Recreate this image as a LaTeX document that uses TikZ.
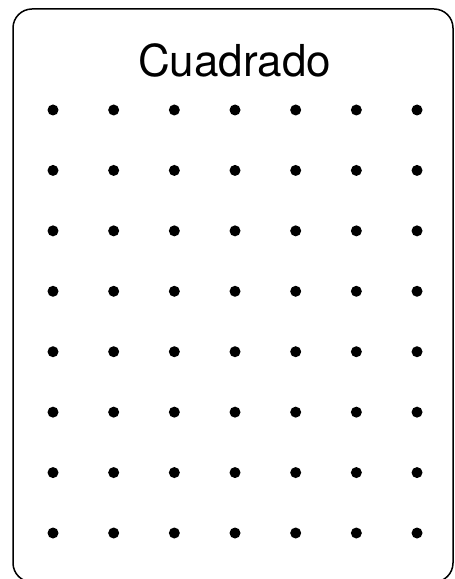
\documentclass[tikz,border=0pt]{standalone}
\usepackage{fontspec}
\setmainfont{TeX Gyre Heros}
\usepackage{tikz}

\begin{document}
\begin{tikzpicture}[x=1pt,y=1pt,thick,dot/.style={circle,fill=black,inner sep=0pt,minimum size=11}]
	\useasboundingbox (0,0) rectangle (455,579);
	\draw [line width=1.5pt,rounded corners=19] (13,-3) rectangle (453,570);
	\node at (234.5,502) [anchor=base] (title) {\fontsize{44}{52}\selectfont Cuadrado};
	\foreach \r in {0,...,7}
		\foreach \c in {0,...,6}
			\node at (53+60.67*\c,469-60.43*\r) [dot] (d\r\c) {};
\end{tikzpicture}
\end{document}
